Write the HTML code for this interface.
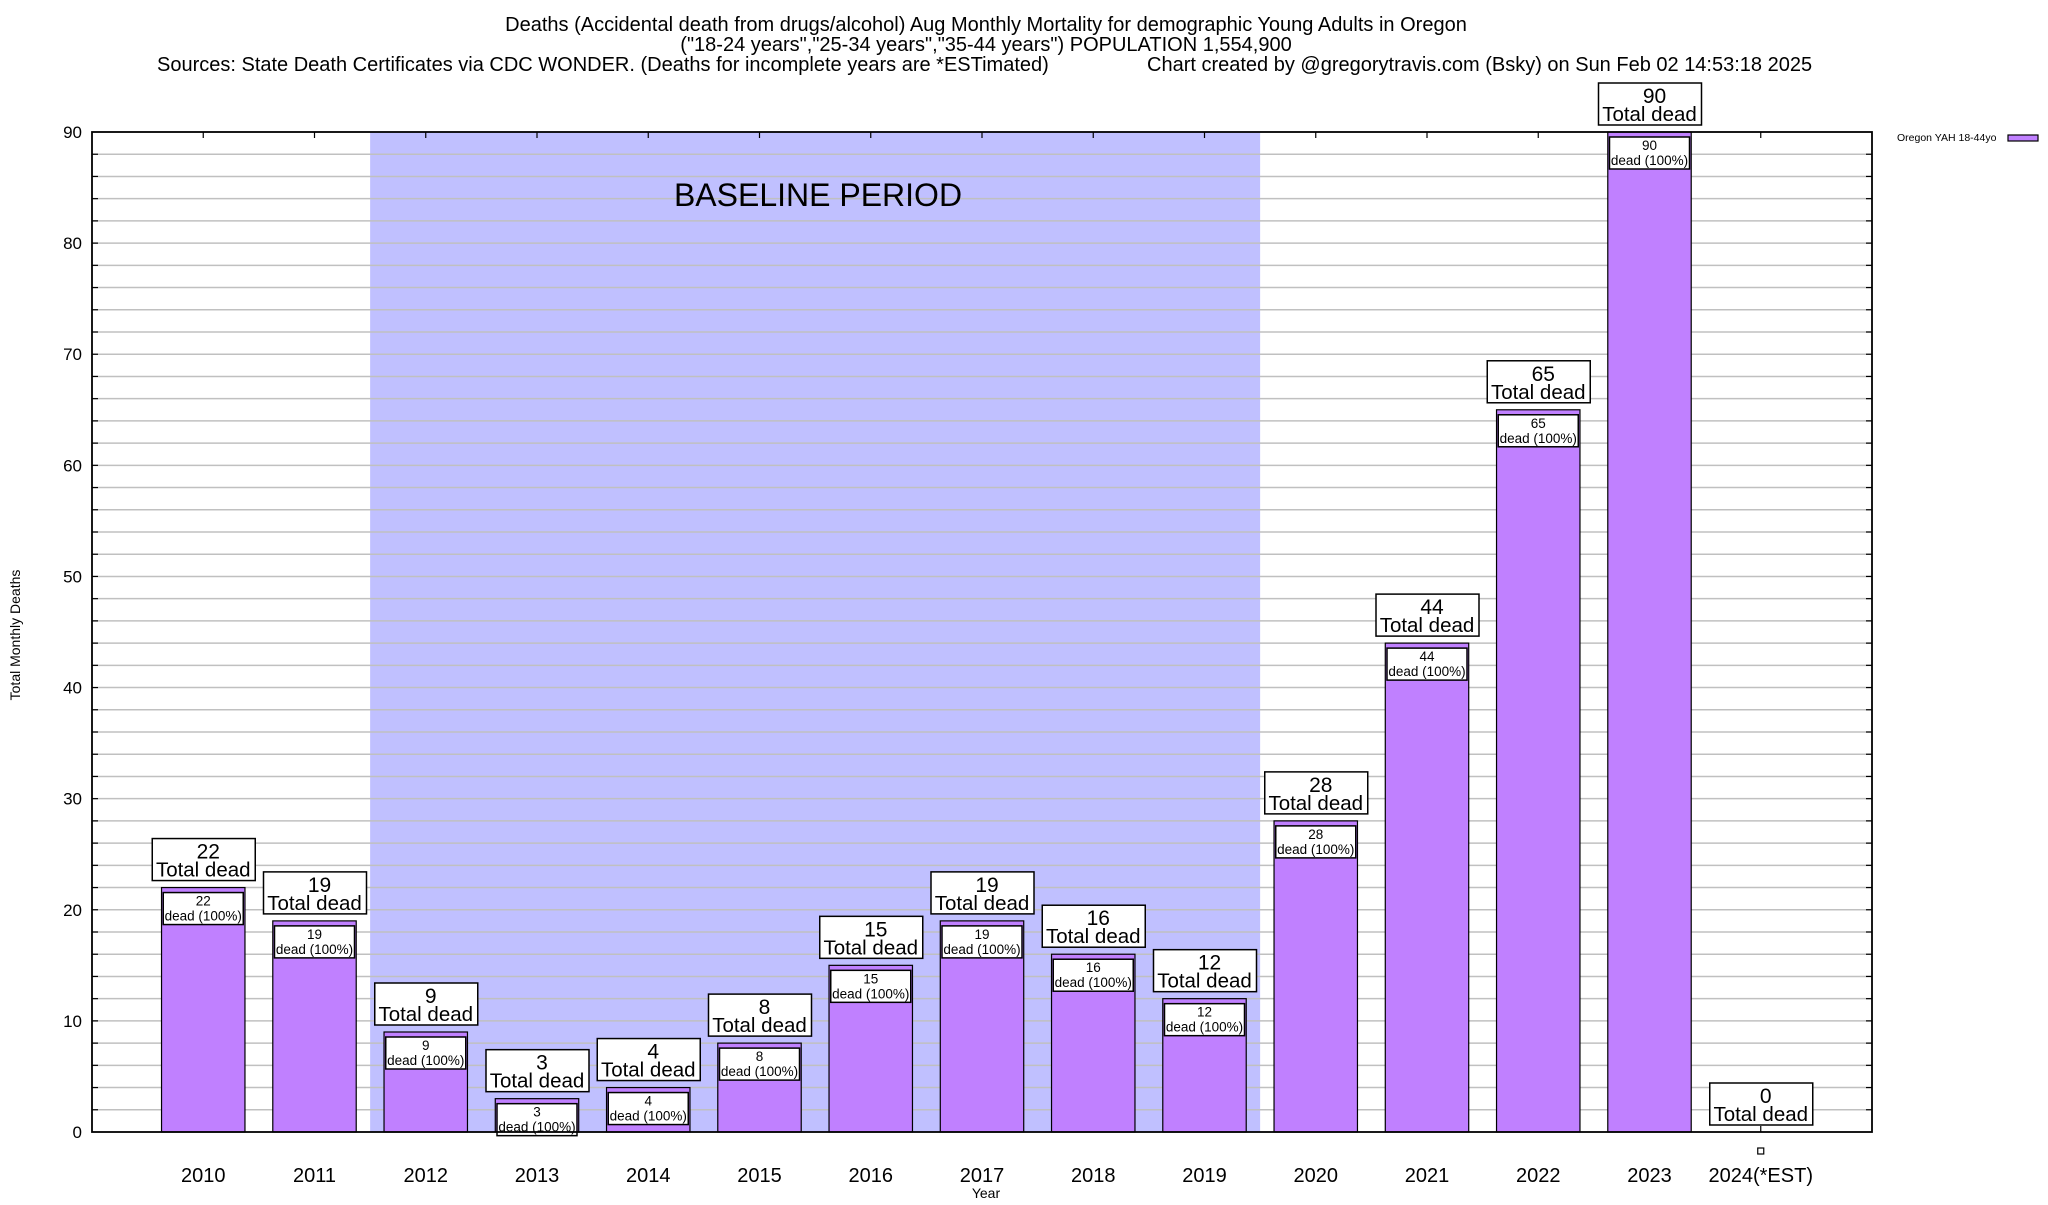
<!DOCTYPE html>
<html><head><meta charset="utf-8">
<style>
body{margin:0;background:#fff;}
svg text{font-family:"Liberation Sans",sans-serif;}
</style></head>
<body>
<svg id="chart" width="2048" height="1200" xmlns="http://www.w3.org/2000/svg">
<rect x="0" y="0" width="2048" height="1200" fill="#fff"/>
<text x="986" y="31" font-size="20" text-anchor="middle">Deaths (Accidental death from drugs/alcohol) Aug Monthly Mortality for demographic Young Adults in Oregon</text>
<text x="986" y="51" font-size="20" text-anchor="middle">("18-24 years","25-34 years","35-44 years") POPULATION 1,554,900</text>
<text x="157" y="71" font-size="20">Sources: State Death Certificates via CDC WONDER. (Deaths for incomplete years are *ESTimated)</text>
<text x="1147" y="71" font-size="20">Chart created by @gregorytravis.com (Bsky) on Sun Feb 02 14:53:18 2025</text>
<g id="plot"></g>
<text x="1897" y="141" font-size="10.5">Oregon YAH 18-44yo</text>
<rect x="2008" y="135" width="30" height="6" fill="#c080ff" stroke="#000" stroke-width="1.2"/>
<text x="20" y="635" font-size="14" text-anchor="middle" transform="rotate(-90 20 635)">Total Monthly Deaths</text>
<text x="986" y="1198" font-size="14" text-anchor="middle">Year</text>
</svg>
<script>
const categories = ["2010","2011","2012","2013","2014","2015","2016","2017","2018","2019","2020","2021","2022","2023","2024(*EST)"];
const deaths = [22,19,9,3,4,8,15,19,16,12,28,44,65,90,0];
const yTicks = [0,10,20,30,40,50,60,70,80,90];
const baselineRange = [1.5, 9.5];

const L=92,R=1872,T=132,B=1132;
const ymax=90;
function xs(i){return L+(i+1)*(R-L)/16;}
function ys(v){return B-v*(B-T)/ymax;}
const NS="http://www.w3.org/2000/svg";
const g=document.getElementById('plot');
function mk(tag,attrs,parent){const e=document.createElementNS(NS,tag);for(const k in attrs)e.setAttribute(k,attrs[k]);(parent||g).appendChild(e);return e;}

const sh=mk('rect',{x:xs(baselineRange[0]),y:T,width:xs(baselineRange[1])-xs(baselineRange[0]),height:B-T,fill:'#c0c0ff'});


for(let v=2;v<ymax;v+=2){
  const ln=mk('line',{x1:L,x2:R,y1:ys(v),y2:ys(v),stroke:'#c0c0c0','stroke-width':1.5});
  
  
  mk('line',{x1:L,x2:L+6,y1:ys(v),y2:ys(v),stroke:'#000','stroke-width':1.2});
  mk('line',{x1:R-6,x2:R,y1:ys(v),y2:ys(v),stroke:'#000','stroke-width':1.2});
}
const bt=mk('text',{x:818,y:206,'font-size':32,'text-anchor':'middle'});
bt.textContent='BASELINE PERIOD';


yTicks.forEach(v=>{
  const t=mk('text',{x:82,y:ys(v)+6,'font-size':17,'text-anchor':'end'});
  t.textContent=v;
  
  
});
const bw=0.75*(R-L)/16;
categories.forEach((c,i)=>{
  const cx=xs(i), v=deaths[i], top=ys(v);
  mk('line',{x1:cx,x2:cx,y1:T,y2:T+6,stroke:'#000','stroke-width':1.2});
  mk('line',{x1:cx,x2:cx,y1:B-6,y2:B,stroke:'#000','stroke-width':1.2});
  if(v>0){
    const r=mk('rect',{x:cx-bw/2,y:top,width:bw,height:B-top,fill:'#c080ff',stroke:'#000','stroke-width':1.2});
    
    
    const ib=mk('rect',{x:cx-40,y:top+5,width:80,height:32,fill:'#fff',stroke:'#000','stroke-width':1.5});
    
    
    const t1=mk('text',{x:cx,y:top+18,'font-size':13.5,'text-anchor':'middle'});t1.textContent=v;
    
    
    const t2=mk('text',{x:cx,y:top+33,'font-size':13.5,'text-anchor':'middle'});t2.textContent='dead (100%)';
    
    
  } else {
    const m=mk('rect',{x:cx-3,y:B+16,width:6,height:6,fill:'#fff',stroke:'#000','stroke-width':1.2});
    
    
  }
  const ob=mk('rect',{x:cx-51,y:top-49,width:103,height:42,fill:'#fff',stroke:'#000','stroke-width':1.5});
  
  
  const o1=mk('text',{x:cx+5,y:top-29,'font-size':21,'text-anchor':'middle'});o1.textContent=v;
  
  
  const o2=mk('text',{x:cx,y:top-11,'font-size':20.5,'text-anchor':'middle'});o2.textContent='Total dead';
  
  
  const xl=mk('text',{x:cx,y:1182,'font-size':20,'text-anchor':'middle'});xl.textContent=c;
  
  
});
const fr=mk('rect',{x:L,y:T,width:R-L,height:B-T,fill:'none',stroke:'#000','stroke-width':1.8});


</script>
</body></html>
